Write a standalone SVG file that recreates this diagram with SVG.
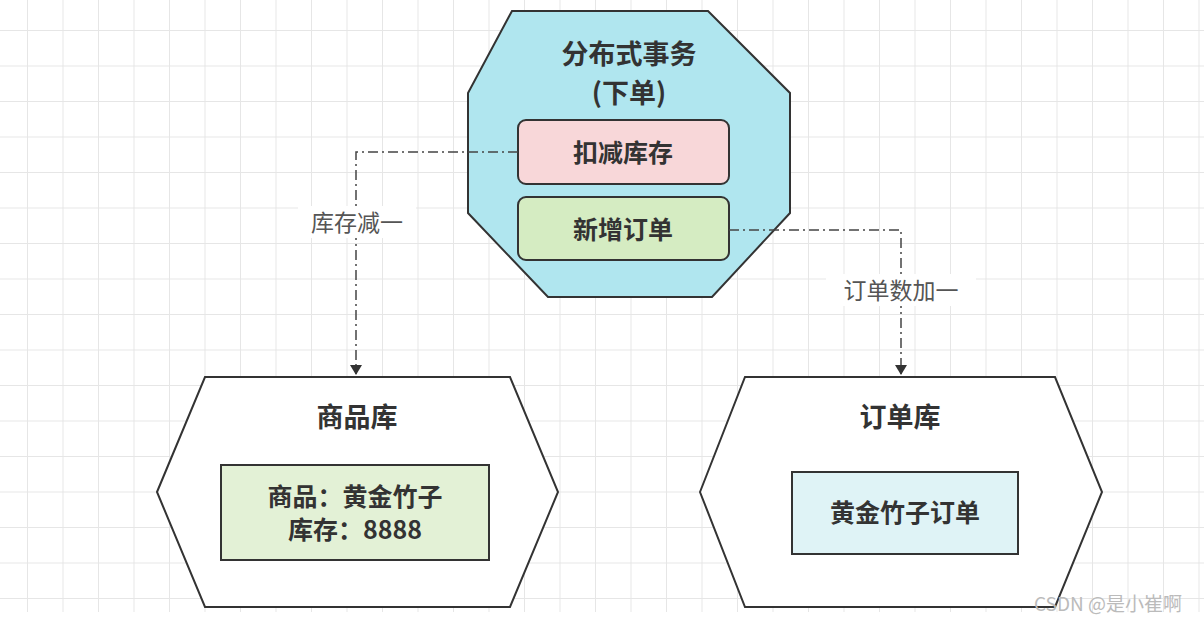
<svg xmlns="http://www.w3.org/2000/svg" width="1204" height="625" viewBox="0 0 1204 625">
<defs>
<pattern id="grid" x="27" y="30" width="35.5" height="35.5" patternUnits="userSpaceOnUse">
<path d="M0 0H35.5M0 0V35.5" stroke="#e6e6e6" stroke-width="2" fill="none"/>
</pattern>
<marker id="arr" markerWidth="10" markerHeight="12" refX="9" refY="6" orient="auto" markerUnits="userSpaceOnUse">
<path d="M0 0L10 6L0 12z" fill="#333"/>
</marker>
<style>
text{font-family:"Noto Sans CJK SC","Liberation Sans",sans-serif;fill:#333;text-anchor:middle}
.b{font-weight:bold;font-size:25px}
.t{font-weight:bold;font-size:27px}
.l{font-size:23px;fill:#555}
.shape{stroke:#333;stroke-width:2}
.conn{fill:none;stroke:#444;stroke-width:1.5;stroke-dasharray:10 4 2 4}
</style>
</defs>
<rect width="1204" height="625" fill="#fff"/>
<rect width="1204" height="612" fill="url(#grid)"/>
<g id="tx">
<polygon class="shape" fill="#b0e6ef" points="512,11 708,11 790,93 790,213 712,297 548,297 468,213 468,93"/>
<text class="t" x="629" y="64">分布式事务</text>
<text class="t" x="629" y="103">(下单)</text>
</g>
<g id="deduct">
<rect class="shape" x="518" y="120" width="211" height="64" rx="8" fill="#f8d7d9"/>
<text class="b" x="623" y="162">扣减库存</text>
</g>
<g id="neworder">
<rect class="shape" x="518" y="197" width="211" height="63" rx="8" fill="#d5ecc2"/>
<text class="b" x="623" y="239">新增订单</text>
</g>
<g id="goodsdb">
<polygon class="shape" fill="#fff" points="157,492 205,377 510,377 558,492 510,607 205,607"/>
<text class="t" x="357" y="427">商品库</text>
<rect class="shape" x="221" y="465" width="268" height="95" fill="#e3f1d6"/>
<text class="b" x="355" y="506">商品：黄金竹子</text>
<text class="b" x="355" y="539">库存：8888</text>
</g>
<g id="orderdb">
<polygon class="shape" fill="#fff" points="700,492 745,377 1055,377 1102,492 1055,607 745,607"/>
<text class="t" x="900" y="427">订单库</text>
<rect class="shape" x="792" y="472" width="226" height="82" fill="#dff3f6"/>
<text class="b" x="905" y="522">黄金竹子订单</text>
</g>
<g id="connectors">
<path class="conn" d="M518 152H356V374" marker-end="url(#arr)"/>
<path class="conn" d="M729 230H901V374" marker-end="url(#arr)"/>
<rect x="298" y="206" width="118" height="32" fill="#fff"/>
<text class="l" x="357" y="231">库存减一</text>
<rect x="826" y="274" width="150" height="32" fill="#fff"/>
<text class="l" x="901" y="299">订单数加一</text>
</g>
<text x="1108" y="611" style="font-size:19px;fill:#bbb">CSDN @是小崔啊</text>
</svg>
